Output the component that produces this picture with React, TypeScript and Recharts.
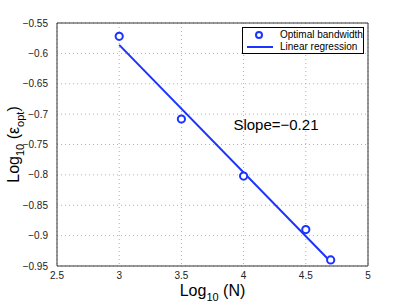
import React from 'react';
import {
  ComposedChart,
  Scatter,
  Line,
  XAxis,
  YAxis,
  CartesianGrid,
  ReferenceArea,
  ReferenceDot,
  Label,
} from 'recharts';

// Optimal bandwidth (measured points)
const logN = [3, 3.5, 4, 4.5, 4.7];
const logEps = [-0.572, -0.708, -0.802, -0.89, -0.94];

// Linear regression end points
const fitX = [3, 4.7];
const fitY = [-0.586, -0.943];

const xTicks = [2.5, 3, 3.5, 4, 4.5, 5];
const yTicks = [-0.95, -0.9, -0.85, -0.8, -0.75, -0.7, -0.65, -0.6, -0.55];

const BLUE = '#1a33ff';
const FONT = '"Liberation Sans", Arial, sans-serif';

const points = logN.map((x, i) => ({ x, y: logEps[i] }));
const fit = fitX.map((x, i) => ({ x, y: fitY[i] }));

const fmt = (v: number) => {
  const s = String(Math.abs(v));
  return v < 0 ? '\u2212' + s : s;
};

const XLabel = ({ viewBox }: any) => {
  const cx = viewBox.x + viewBox.width / 2;
  return (
    <text x={cx} y={296} textAnchor="middle" fontFamily={FONT} fontSize={16} fill="#000">
      Log<tspan fontSize={11} dy={5}>10</tspan>
      <tspan dy={-5}> (N)</tspan>
    </text>
  );
};

const YLabel = ({ viewBox }: any) => {
  const cy = viewBox.y + viewBox.height / 2;
  const cx = 19;
  return (
    <text
      x={cx}
      y={cy}
      textAnchor="middle"
      fontFamily={FONT}
      fontSize={16}
      fill="#000"
      transform={`rotate(-90 ${cx} ${cy})`}
    >
      Log<tspan fontSize={11} dy={5}>10</tspan>
      <tspan dy={-5}> (ε</tspan>
      <tspan fontSize={11} dy={5}>opt</tspan>
      <tspan dy={-5}>)</tspan>
    </text>
  );
};

const Ring = (props: any) => {
  const { cx, cy } = props;
  return <circle cx={cx} cy={cy} r={3.6} fill="#fff" stroke={BLUE} strokeWidth={2} />;
};

export default function App() {
  return (
    <div style={{ position: 'absolute', left: 0, top: 0, width: 407, height: 306, background: '#fff' }}>
      <ComposedChart width={407} height={306} margin={{ top: 23, right: 39, bottom: 0, left: 0 }}>
        <CartesianGrid stroke="#b0b0b0" strokeDasharray="1 3" />
        <XAxis
          type="number"
          dataKey="x"
          domain={[2.5, 5]}
          ticks={xTicks}
          height={40}
          tickLine={false}
          axisLine={false}
          tickFormatter={fmt}
          tick={{ fill: '#222', fontSize: 10, fontFamily: FONT }}
          tickMargin={0}
        >
          <Label content={<XLabel />} />
        </XAxis>
        <YAxis
          type="number"
          dataKey="y"
          domain={[-0.95, -0.55]}
          ticks={yTicks}
          width={57}
          tickLine={false}
          axisLine={false}
          tickFormatter={fmt}
          tick={{ fill: '#222', fontSize: 10, fontFamily: FONT }}
          tickMargin={3}
        >
          <Label content={<YLabel />} />
        </YAxis>
        <ReferenceArea x1={2.5} x2={5} y1={-0.95} y2={-0.55} fill="none" stroke="#333" strokeWidth={1} />
        <Line
          data={fit}
          dataKey="y"
          type="linear"
          stroke={BLUE}
          strokeWidth={2}
          dot={false}
          isAnimationActive={false}
        />
        <Scatter data={points} dataKey="y" shape={<Ring />} isAnimationActive={false} />
        <ReferenceDot
          x={4.26}
          y={-0.718}
          r={0}
          label={{ value: 'Slope=\u22120.21', position: 'center', fontSize: 15, fontFamily: FONT, fill: '#000' }}
        />
      </ComposedChart>
      <div
        style={{
          position: 'absolute',
          left: 242,
          top: 27,
          width: 120,
          height: 25,
          border: '1px solid #000',
          background: '#fff',
          fontFamily: FONT,
          fontSize: 10,
          lineHeight: '12px',
          color: '#000',
        }}
      >
        <div style={{ display: 'flex', alignItems: 'center', height: 12, marginTop: 1 }}>
          <svg width={35} height={12}>
            <circle cx={16} cy={6} r={3} fill="#fff" stroke={BLUE} strokeWidth={2} />
          </svg>
          <span style={{ marginLeft: 2 }}>Optimal bandwidth</span>
        </div>
        <div style={{ display: 'flex', alignItems: 'center', height: 12 }}>
          <svg width={35} height={12}>
            <line x1={4} y1={6} x2={30} y2={6} stroke={BLUE} strokeWidth={2} />
          </svg>
          <span style={{ marginLeft: 2 }}>Linear regression</span>
        </div>
      </div>
    </div>
  );
}
